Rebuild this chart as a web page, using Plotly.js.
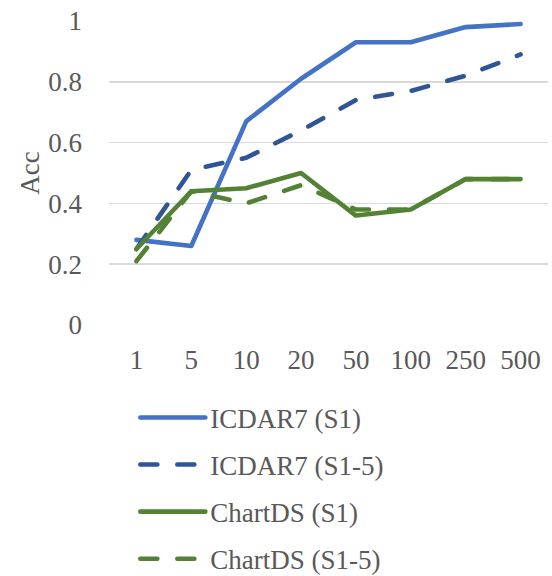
<!DOCTYPE html>
<html>
<head>
<meta charset="utf-8">
<script src="https://cdn.plot.ly/plotly-3.0.1.min.js"></script>
<style>
html,body{margin:0;padding:0;background:#fff;}
#chart{width:552px;height:576px;}
svg text{font-family:'Liberation Serif','Times New Roman',serif !important;}
.js-line{stroke-linecap:round;stroke-linejoin:round;}
.legendlines path{stroke-linecap:round;}
</style>
</head>
<body>
<div id="chart"></div>
<script>
const categories = ["1","5","10","20","50","100","250","500"];
const icdarS1  = [0.28,0.26,0.67,0.81,0.93,0.93,0.98,0.99];
const icdarS15 = [0.25,0.51,0.55,0.64,0.74,0.77,0.82,0.89];
const chartS1  = [0.25,0.44,0.45,0.50,0.36,0.38,0.48,0.48];
const chartS15 = [0.21,0.44,0.40,0.46,0.38,0.38,0.48,0.48];
const yTicks = [0,0.2,0.4,0.6,0.8,1];
const yTickText = ["0","0.2","0.4","0.6","0.8","1"];

const font = "Liberation Serif";
const grey = "#595959";

function tr(name, y, color, dash, g){
  return {x:categories, y:y, name:name, type:'scatter', mode:'lines',
    legendgroup:g,
    line:{color:color, width:4.6, dash:dash}, hoverinfo:'skip'};
}
const data = [
  tr("ICDAR7 (S1)", icdarS1, "#4472C4", "solid", "a"),
  tr("ICDAR7 (S1-5)", icdarS15, "#2F5597", "17px,20px", "b"),
  tr("ChartDS (S1)", chartS1, "#548235", "solid", "c"),
  tr("ChartDS (S1-5)", chartS15, "#548235", "17px,20px", "d")
];
const layout = {
  width:552, height:576,
  margin:{l:109, r:4, t:21, b:251, autoexpand:false},
  paper_bgcolor:'#fff', plot_bgcolor:'#fff',
  font:{family:font, size:27, color:grey},
  xaxis:{type:'category', range:[-0.5,7.5], showgrid:false, zeroline:false, showline:false,
    ticks:'', ticklabelstandoff:16, tickfont:{family:font,size:27,color:grey}, fixedrange:true},
  yaxis:{range:[0,1], tickvals:yTicks, ticktext:yTickText, showgrid:true,
    gridcolor:'#D9D9D9', gridwidth:1.5, zeroline:false, showline:false,
    ticks:'', ticklabelstandoff:26, tickfont:{family:font,size:27,color:grey},
    title:{text:"Acc", font:{family:font,size:27,color:grey}, standoff:0}, fixedrange:true},
  showlegend:true,
  legend:{orientation:'v', x:0.06, xanchor:'left', y:-0.225, yanchor:'top',
    traceorder:'grouped', tracegroupgap:9, itemwidth:65,
    font:{family:font,size:27,color:grey}, bgcolor:'rgba(0,0,0,0)'}
};
Plotly.newPlot('chart', data, layout, {staticPlot:true, displayModeBar:false});
</script>
</body>
</html>
